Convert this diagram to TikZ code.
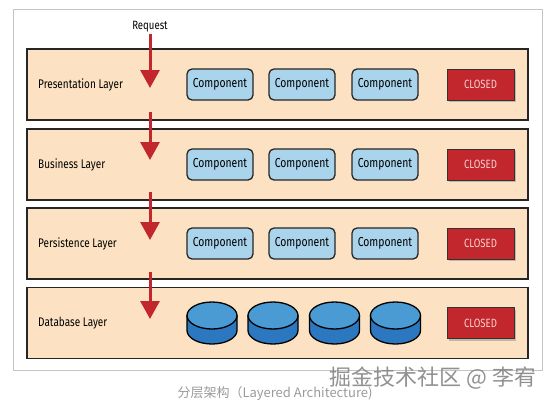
\documentclass[tikz,border=0pt]{standalone}
\usepackage{fontspec}
\setmainfont{Fira Sans}[FakeStretch=0.8]
\newfontfamily\cjkfont{Noto Sans CJK SC}
\usetikzlibrary{arrows.meta,shadows}
\definecolor{layerfill}{HTML}{FCE2C2}
\definecolor{compfill}{HTML}{AAD3EC}
\definecolor{closedred}{HTML}{C1272D}
\definecolor{closedtext}{HTML}{F7D0D0}
\definecolor{dbtop}{HTML}{4A9AD4}
\definecolor{dbside}{HTML}{2B77C0}
\definecolor{framegray}{HTML}{C4C4C4}
\definecolor{captiongray}{HTML}{9A9A9A}
\definecolor{markgray}{HTML}{858585}
\tikzset{
	dbdisk/.pic={
		\draw[fill=dbside,line width=1.3pt] (-25,-7.5) -- (-25,7.5) arc[start angle=180,end angle=0,x radius=25,y radius=13.5] -- (25,-7.5) -- cycle;
		\draw[fill=dbtop,line width=1.3pt] (0,-7.5) ellipse [x radius=25,y radius=13.5];
	}
}
\begin{document}
\begin{tikzpicture}[x=1pt,y=-1pt]
	\useasboundingbox (0,0) rectangle (553,405);
	\draw[framegray,line width=1pt] (13,9) rectangle (542,370);
	
	\begin{scope}[every node/.style={draw=black!85,line width=1.3pt,fill=layerfill,minimum width=501pt,minimum height=71pt,inner sep=0pt}]
		\node (L1) at (277.5,84.5) {};
		\node (L2) at (277.5,164.5) {};
		\node (L3) at (277.5,243.5) {};
		\node (L4) at (277.5,323) {};
	\end{scope}
	
	\begin{scope}[every node/.style={anchor=west,inner sep=0pt,font=\fontsize{12.5}{14}\selectfont}]
		\node (N1) at (38,84.5) {Presentation Layer};
		\node (N2) at (38,164.5) {Business Layer};
		\node (N3) at (38,243.5) {Persistence Layer};
		\node (N4) at (38,323) {Database Layer};
	\end{scope}
	
	\begin{scope}[every node/.style={draw=black!85,line width=1.3pt,fill=compfill,rounded corners=5pt,minimum width=66pt,minimum height=31pt,inner sep=0pt,font=\fontsize{13}{15}\selectfont}]
		\node (P1) at (220,84.5) {Component};
		\node (P2) at (302,84.5) {Component};
		\node (P3) at (385,84.5) {Component};
		\node (B1) at (220,164.5) {Component};
		\node (B2) at (302,164.5) {Component};
		\node (B3) at (385,164.5) {Component};
		\node (S1) at (220,243.5) {Component};
		\node (S2) at (302,243.5) {Component};
		\node (S3) at (385,243.5) {Component};
	\end{scope}
	
	% database disks
	\pic (D1) at (212,323) {dbdisk};
	\pic (D2) at (273,323) {dbdisk};
	\pic (D3) at (334.5,323) {dbdisk};
	\pic (D4) at (395.5,323) {dbdisk};
	
	\begin{scope}[every node/.style={draw=black!80,line width=1pt,fill=closedred,text=closedtext,minimum width=67pt,minimum height=31pt,inner sep=0pt,drop shadow={shadow xshift=2pt,shadow yshift=-2pt,opacity=.45},font=\fontsize{12}{14}\selectfont}]
		\node (C1) at (480.5,84.5) {CLOSED};
		\node (C2) at (480.5,164.5) {CLOSED};
		\node (C3) at (480.5,243.5) {CLOSED};
		\node (C4) at (480.5,323) {CLOSED};
	\end{scope}
	
	\node[inner sep=1pt,font=\fontsize{12}{14}\selectfont] (request) at (150,27) {Request};
	\coordinate (t1) at (150,88);
	\coordinate (s2) at (150,112);
	\coordinate (t2) at (150,160);
	\coordinate (s3) at (150,192);
	\coordinate (t3) at (150,240);
	\coordinate (s4) at (150,272);
	\coordinate (t4) at (150,319);
	
	\begin{scope}[every edge/.style={draw=closedred,line width=3pt}]
		\path [-{Triangle[width=19pt,length=18pt]}] (request) edge (t1);
		\path [-{Triangle[width=19pt,length=18pt]}] (s2) edge (t2);
		\path [-{Triangle[width=19pt,length=18pt]}] (s3) edge (t3);
		\path [-{Triangle[width=19pt,length=18pt]}] (s4) edge (t4);
	\end{scope}
	
	\node[text=captiongray,font=\cjkfont\fontsize{13}{15}\selectfont] (caption) at (275,393) {分层架构（Layered Architecture)};
	\node[text=markgray,opacity=.9,anchor=east,font=\cjkfont\fontsize{22}{24}\selectfont] (mark) at (540,378) {掘金技术社区 @ 李宥};
\end{tikzpicture}
\end{document}
